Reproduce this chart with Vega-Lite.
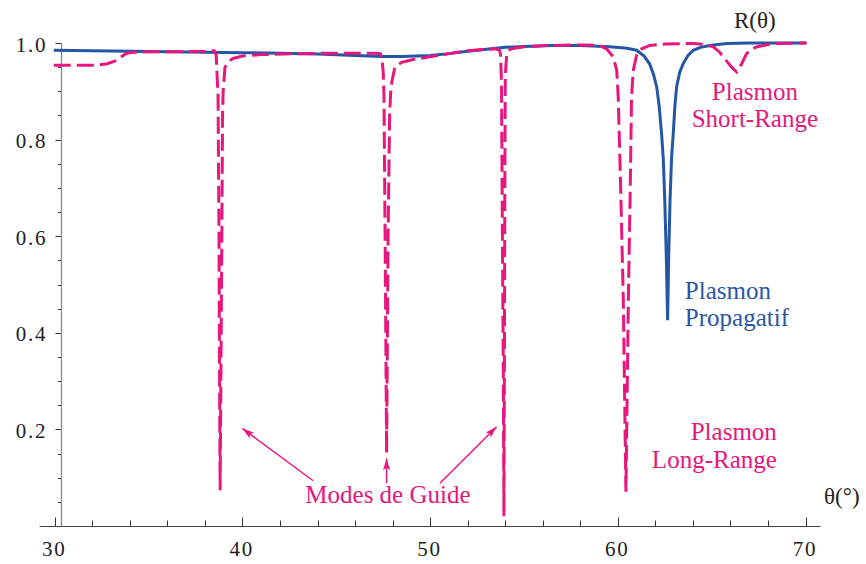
{
 "$schema": "https://vega.github.io/schema/vega-lite/v6.json",
 "width": 781, "height": 483,
 "autosize": {"type": "none"},
 "padding": {"left": 39, "top": 43, "right": 46, "bottom": 38},
 "background": "white",
 "config": {"view": {"stroke": null}, "font": "Liberation Serif", "axis": {"grid": false}},
 "datasets": {
  "curves": [
   {"series":"propagatif","theta":29.95,"R":0.985},{"series":"propagatif","theta":32,"R":0.984},{"series":"propagatif","theta":34,"R":0.983},{"series":"propagatif","theta":36,"R":0.982},{"series":"propagatif","theta":38,"R":0.981},{"series":"propagatif","theta":40,"R":0.980},{"series":"propagatif","theta":42,"R":0.979},{"series":"propagatif","theta":44,"R":0.977},{"series":"propagatif","theta":46,"R":0.974},{"series":"propagatif","theta":47.5,"R":0.972},{"series":"propagatif","theta":48.5,"R":0.972},{"series":"propagatif","theta":50,"R":0.974},{"series":"propagatif","theta":51,"R":0.978},{"series":"propagatif","theta":52,"R":0.983},{"series":"propagatif","theta":53,"R":0.987},{"series":"propagatif","theta":54,"R":0.991},{"series":"propagatif","theta":55,"R":0.993},{"series":"propagatif","theta":56.4,"R":0.995},{"series":"propagatif","theta":58,"R":0.995},{"series":"propagatif","theta":59.56,"R":0.992},{"series":"propagatif","theta":60.5,"R":0.989},{"series":"propagatif","theta":61.0,"R":0.985},{"series":"propagatif","theta":61.4,"R":0.973},{"series":"propagatif","theta":61.69,"R":0.957},{"series":"propagatif","theta":61.9,"R":0.935},{"series":"propagatif","theta":62.07,"R":0.909},{"series":"propagatif","theta":62.2,"R":0.87},{"series":"propagatif","theta":62.33,"R":0.812},{"series":"propagatif","theta":62.42,"R":0.76},{"series":"propagatif","theta":62.5,"R":0.674},{"series":"propagatif","theta":62.58,"R":0.56},{"series":"propagatif","theta":62.65,"R":0.426},{"series":"propagatif","theta":62.71,"R":0.56},{"series":"propagatif","theta":62.78,"R":0.674},{"series":"propagatif","theta":62.86,"R":0.76},{"series":"propagatif","theta":62.95,"R":0.812},{"series":"propagatif","theta":63.04,"R":0.87},{"series":"propagatif","theta":63.13,"R":0.909},{"series":"propagatif","theta":63.3,"R":0.94},{"series":"propagatif","theta":63.48,"R":0.957},{"series":"propagatif","theta":63.75,"R":0.975},{"series":"propagatif","theta":64.02,"R":0.985},{"series":"propagatif","theta":64.4,"R":0.991},{"series":"propagatif","theta":64.9,"R":0.995},{"series":"propagatif","theta":65.8,"R":0.999},{"series":"propagatif","theta":67,"R":1.0},{"series":"propagatif","theta":70.05,"R":1.0},
   {"series":"guide","theta":29.95,"R":0.954},{"series":"guide","theta":31,"R":0.954},{"series":"guide","theta":32.2,"R":0.954},{"series":"guide","theta":32.8,"R":0.957},{"series":"guide","theta":33.3,"R":0.964},{"series":"guide","theta":33.6,"R":0.973},{"series":"guide","theta":33.85,"R":0.979},{"series":"guide","theta":34.2,"R":0.981},{"series":"guide","theta":36,"R":0.982},{"series":"guide","theta":38,"R":0.983},{"series":"guide","theta":38.5,"R":0.984},{"series":"guide","theta":38.6,"R":0.975},{"series":"guide","theta":38.64,"R":0.94},{"series":"guide","theta":38.7,"R":0.89},{"series":"guide","theta":38.75,"R":0.6},{"series":"guide","theta":38.78,"R":0.3},{"series":"guide","theta":38.81,"R":0.074},{"series":"guide","theta":38.85,"R":0.3},{"series":"guide","theta":38.9,"R":0.6},{"series":"guide","theta":38.94,"R":0.85},{"series":"guide","theta":38.97,"R":0.9},{"series":"guide","theta":39.07,"R":0.95},{"series":"guide","theta":39.25,"R":0.962},{"series":"guide","theta":39.5,"R":0.968},{"series":"guide","theta":40,"R":0.973},{"series":"guide","theta":41,"R":0.976},{"series":"guide","theta":43,"R":0.978},{"series":"guide","theta":45,"R":0.979},{"series":"guide","theta":47.0,"R":0.979},{"series":"guide","theta":47.35,"R":0.978},{"series":"guide","theta":47.43,"R":0.968},{"series":"guide","theta":47.5,"R":0.94},{"series":"guide","theta":47.54,"R":0.89},{"series":"guide","theta":47.6,"R":0.6},{"series":"guide","theta":47.68,"R":0.151},{"series":"guide","theta":47.76,"R":0.6},{"series":"guide","theta":47.84,"R":0.85},{"series":"guide","theta":47.9,"R":0.9},{"series":"guide","theta":47.96,"R":0.92},{"series":"guide","theta":48.12,"R":0.95},{"series":"guide","theta":48.48,"R":0.96},{"series":"guide","theta":49.1,"R":0.966},{"series":"guide","theta":49.9,"R":0.971},{"series":"guide","theta":51,"R":0.978},{"series":"guide","theta":52,"R":0.984},{"series":"guide","theta":52.66,"R":0.986},{"series":"guide","theta":53.5,"R":0.988},{"series":"guide","theta":53.7,"R":0.985},{"series":"guide","theta":53.75,"R":0.975},{"series":"guide","theta":53.8,"R":0.92},{"series":"guide","theta":53.85,"R":0.6},{"series":"guide","theta":53.9,"R":0.3},{"series":"guide","theta":53.93,"R":0.02},{"series":"guide","theta":53.96,"R":0.4},{"series":"guide","theta":53.98,"R":0.7},{"series":"guide","theta":54.0,"R":0.92},{"series":"guide","theta":54.03,"R":0.95},{"series":"guide","theta":54.08,"R":0.975},{"series":"guide","theta":54.2,"R":0.985},{"series":"guide","theta":54.34,"R":0.988},{"series":"guide","theta":55,"R":0.992},{"series":"guide","theta":56.5,"R":0.995},{"series":"guide","theta":58,"R":0.996},{"series":"guide","theta":59.0,"R":0.995},{"series":"guide","theta":59.4,"R":0.988},{"series":"guide","theta":59.76,"R":0.971},{"series":"guide","theta":59.94,"R":0.943},{"series":"guide","theta":60.02,"R":0.888},{"series":"guide","theta":60.15,"R":0.7},{"series":"guide","theta":60.29,"R":0.47},{"series":"guide","theta":60.43,"R":0.071},{"series":"guide","theta":60.56,"R":0.47},{"series":"guide","theta":60.66,"R":0.7},{"series":"guide","theta":60.73,"R":0.888},{"series":"guide","theta":60.82,"R":0.943},{"series":"guide","theta":61.0,"R":0.975},{"series":"guide","theta":61.27,"R":0.988},{"series":"guide","theta":61.7,"R":0.995},{"series":"guide","theta":62.5,"R":0.998},{"series":"guide","theta":64.02,"R":0.999},{"series":"guide","theta":64.6,"R":0.997},{"series":"guide","theta":65.08,"R":0.992},{"series":"guide","theta":65.4,"R":0.982},{"series":"guide","theta":65.62,"R":0.971},{"series":"guide","theta":66.06,"R":0.95},{"series":"guide","theta":66.33,"R":0.94},{"series":"guide","theta":66.6,"R":0.957},{"series":"guide","theta":66.86,"R":0.978},{"series":"guide","theta":67.1,"R":0.987},{"series":"guide","theta":67.4,"R":0.992},{"series":"guide","theta":68.28,"R":0.999},{"series":"guide","theta":70.05,"R":1.0}
  ],
  "arrows": [
   {"id":1,"theta0":43.77,"R0":0.0937,"theta":39.99,"R":0.202},
   {"id":2,"theta0":47.68,"R0":0.0884,"theta":47.68,"R":0.140},
   {"id":3,"theta0":50.52,"R0":0.0884,"theta":53.54,"R":0.2055}
  ],
  "labels": [
   {"id":"R","theta":67.3,"R":1.045,"text":"R(θ)"},
   {"id":"theta","theta":71.93,"R":0.061,"text":"θ(°)"},
   {"id":"short","theta":67.3,"R":0.8814,"text":"Plasmon\nShort-Range"},
   {"id":"prop","theta":63.57,"R":0.4707,"text":"Plasmon\nPropagatif"},
   {"id":"long","theta":68.47,"R":0.178,"text":"Plasmon\nLong-Range"},
   {"id":"modes","theta":47.75,"R":0.0476,"text":"Modes de Guide"}
  ]
 },
 "encoding": {
  "x": {"field":"theta","type":"quantitative","title":null,
   "scale":{"domain":[29.16,70.77],"nice":false,"zero":false},
   "axis":{"orient":"bottom","values":[30,32,34,36,38,40,42,44,46,48,50,52,54,56,58,60,62,64,66,68,70],
    "labelExpr":"datum.value % 10 === 0 ? join(split(datum.label, ''), '\u200a') : ''",
    "labelFont":"Liberation Serif","labelFontSize":21,"labelColor":"#222","labelPadding":21,
    "labelFlush":false,"labelOverlap":false,"labelOffset":-2,
    "tickSize":{"condition":{"test":"datum.value % 10 === 0","value":-9},"value":-6},
    "tickColor":"#333","tickWidth":1,"domainColor":"#444","domainWidth":1.2,"grid":false}},
  "y": {"field":"R","type":"quantitative","title":null,
   "scale":{"domain":[0,1],"nice":false,"zero":false},
   "axis":{"orient":"left","offset":-22,"values":[0.05,0.1,0.15,0.2,0.25,0.3,0.35,0.4,0.45,0.5,0.55,0.6,0.65,0.7,0.75,0.8,0.85,0.9,0.95,1.0],
    "format":".1f",
    "labelExpr":"round(datum.value*100) % 20 === 0 ? join(split(datum.label, ''), '\u200a') : ''",
    "labelFont":"Liberation Serif","labelFontSize":21,"labelColor":"#222","labelPadding":10,
    "labelBaseline":"middle","labelOffset":2,"labelFlush":false,"labelOverlap":false,
    "tickSize":{"condition":{"test":"round(datum.value*100) % 20 === 0","value":6},"value":3.5},
    "tickColor":"#333","tickWidth":1,"domainColor":"#888","domainWidth":1.3,"grid":false}}
 },
 "layer": [
  {"data":{"name":"curves"},"transform":[{"filter":"datum.series === 'propagatif'"}],
   "mark":{"type":"line","color":"#2357a6","strokeWidth":3}},
  {"data":{"name":"curves"},"transform":[{"filter":"datum.series === 'guide'"}],
   "mark":{"type":"line","color":"#e8177f","strokeWidth":3,"strokeDash":[17,6]}},
  {"data":{"name":"arrows"},"mark":{"type":"rule","color":"#e8177f","strokeWidth":1.5},
   "encoding":{"x2":{"field":"theta0"},"y2":{"field":"R0"}}},
  {"data":{"name":"arrows"},"transform":[{"filter":"datum.id === 1"}],
   "mark":{"type":"point","shape":"M0,0L0.55,1.8L0,1.45L-0.55,1.8Z","filled":true,"color":"#e8177f","opacity":1,"size":170,"angle":-53.6}},
  {"data":{"name":"arrows"},"transform":[{"filter":"datum.id === 2"}],
   "mark":{"type":"point","shape":"M0,0L0.55,1.8L0,1.45L-0.55,1.8Z","filled":true,"color":"#e8177f","opacity":1,"size":170,"angle":0}},
  {"data":{"name":"arrows"},"transform":[{"filter":"datum.id === 3"}],
   "mark":{"type":"point","shape":"M0,0L0.55,1.8L0,1.45L-0.55,1.8Z","filled":true,"color":"#e8177f","opacity":1,"size":170,"angle":45}},
  {"data":{"name":"labels"},"transform":[{"filter":"datum.id === 'R'"}],
   "mark":{"type":"text","align":"center","baseline":"middle","fontSize":23,"color":"#222","font":"Liberation Serif"},
   "encoding":{"text":{"field":"text"}}},
  {"data":{"name":"labels"},"transform":[{"filter":"datum.id === 'theta'"}],
   "mark":{"type":"text","align":"center","baseline":"middle","fontSize":23,"color":"#222","font":"Liberation Serif"},
   "encoding":{"text":{"field":"text"}}},
  {"data":{"name":"labels"},"transform":[{"filter":"datum.id === 'short'"}],
   "mark":{"type":"text","align":"center","baseline":"alphabetic","fontSize":25,"lineHeight":27,"lineBreak":"\n","color":"#e5177e","font":"Liberation Serif"},
   "encoding":{"text":{"field":"text"}}},
  {"data":{"name":"labels"},"transform":[{"filter":"datum.id === 'prop'"}],
   "mark":{"type":"text","align":"left","baseline":"alphabetic","fontSize":25,"lineHeight":27,"lineBreak":"\n","color":"#2a56a4","font":"Liberation Serif"},
   "encoding":{"text":{"field":"text"}}},
  {"data":{"name":"labels"},"transform":[{"filter":"datum.id === 'long'"}],
   "mark":{"type":"text","align":"right","baseline":"alphabetic","fontSize":25,"lineHeight":28,"lineBreak":"\n","color":"#e5177e","font":"Liberation Serif"},
   "encoding":{"text":{"field":"text"}}},
  {"data":{"name":"labels"},"transform":[{"filter":"datum.id === 'modes'"}],
   "mark":{"type":"text","align":"center","baseline":"alphabetic","fontSize":25,"color":"#e5177e","font":"Liberation Serif"},
   "encoding":{"text":{"field":"text"}}}
 ]
}
